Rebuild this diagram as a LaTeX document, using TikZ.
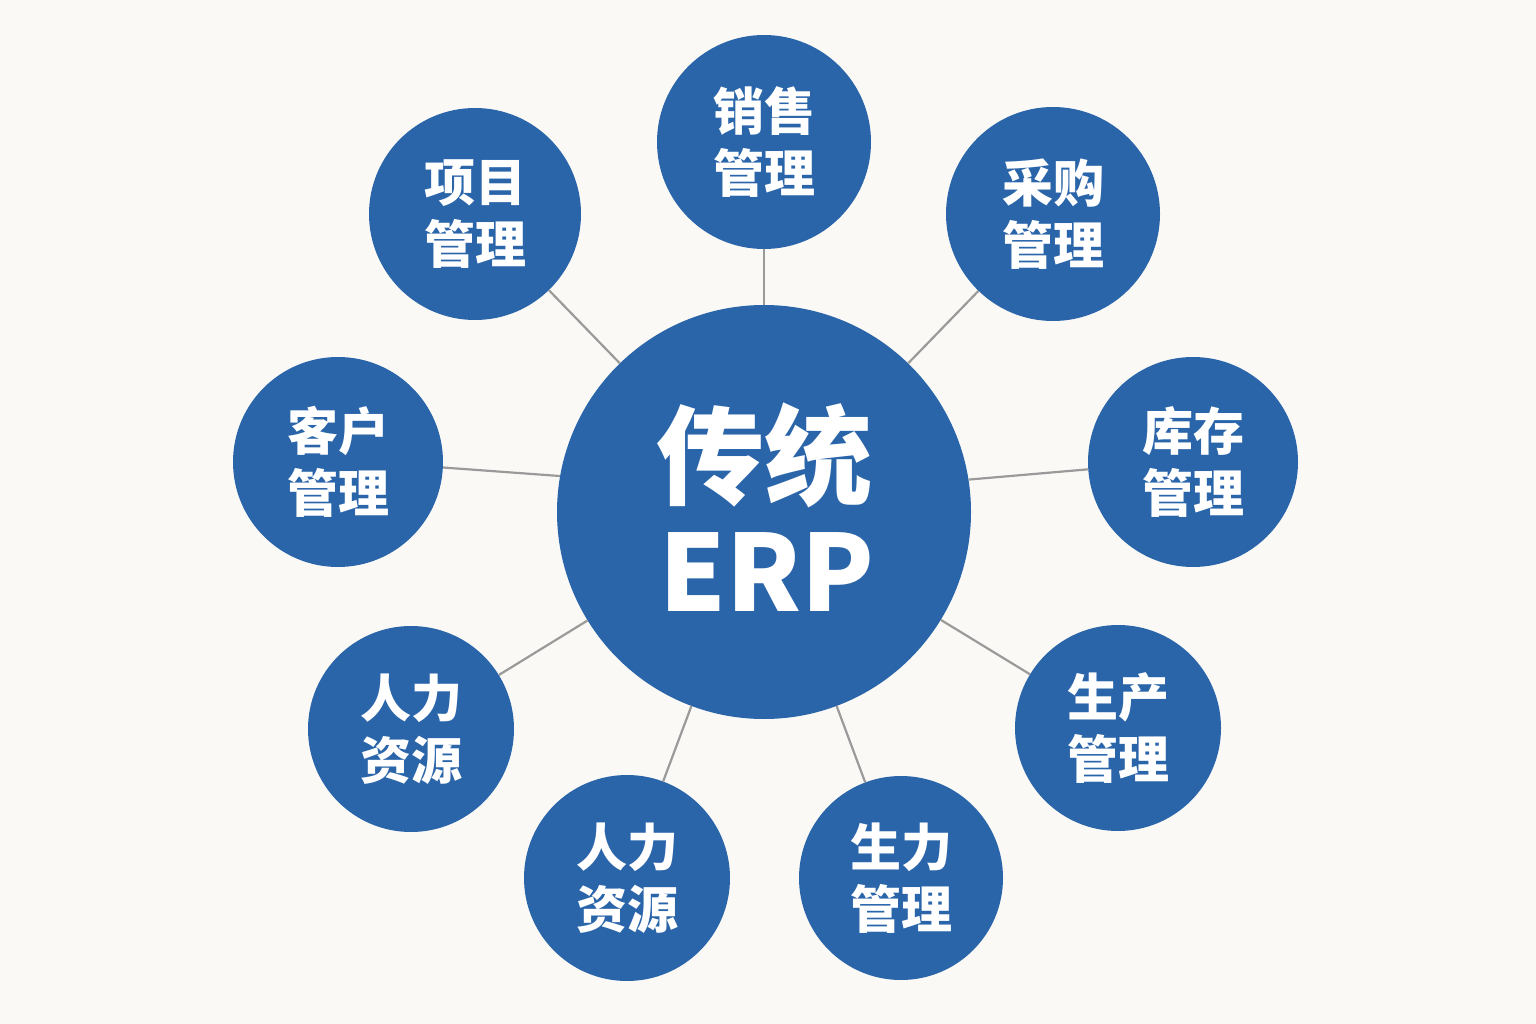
\documentclass[tikz,border=0pt]{standalone}
\usepackage{fontspec}
\newfontfamily\cjk{Noto Sans CJK SC}
\definecolor{bg}{HTML}{FAF9F6}
\definecolor{erpblue}{HTML}{2A65AA}
\definecolor{linkgray}{HTML}{9A9A9A}
\begin{document}
\begin{tikzpicture}[x=1pt,y=-1pt,
  sat/.style={circle,fill=erpblue,draw=none,inner sep=0pt},
  sattext/.style={text=white,align=center,font=\cjk\bfseries\fontsize{51}{62}\selectfont},
  link/.style={draw=linkgray,line width=2.2pt}]
\fill[bg] (0,0) rectangle (1536,1024);
\useasboundingbox (0,0) rectangle (1536,1024);
% center
\node[sat,minimum size=414pt] (c) at (764,512) {};
\node[text=white,font=\cjk\bfseries\fontsize{108}{110}\selectfont] (ct1) at (764,455) {传统};
\node[text=white,font=\cjk\bfseries\fontsize{106}{110}\selectfont] (ct2) at (767,572) {ERP};
% satellites
\node[sat,minimum size=214pt] (s1) at (764,142) {};
\node[sat,minimum size=214pt] (s2) at (1053,214) {};
\node[sat,minimum size=210pt] (s3) at (1193,462) {};
\node[sat,minimum size=206pt] (s4) at (1118,728) {};
\node[sat,minimum size=204pt] (s5) at (901,878) {};
\node[sat,minimum size=206pt] (s6) at (627,878) {};
\node[sat,minimum size=206pt] (s7) at (411,729) {};
\node[sat,minimum size=210pt] (s8) at (338,462) {};
\node[sat,minimum size=212pt] (s9) at (475,214) {};
% links
\foreach \s in {s1,s2,s4,s5,s6,s7,s9}{\draw[link] (c) -- (\s);}
\draw[link] (c.9.3) -- (s3.184.4);
\draw[link] (c.170.6) -- (s8.-3.3);
% texts
\node[sattext] (t1) at (s1) {销售\\管理};
\node[sattext] (t2) at (s2) {采购\\管理};
\node[sattext] (t3) at (s3) {库存\\管理};
\node[sattext] (t4) at (s4) {生产\\管理};
\node[sattext] (t5) at (s5) {生力\\管理};
\node[sattext] (t6) at (s6) {人力\\资源};
\node[sattext] (t7) at (s7) {人力\\资源};
\node[sattext] (t8) at (s8) {客户\\管理};
\node[sattext] (t9) at (s9) {项目\\管理};
\end{tikzpicture}
\end{document}
